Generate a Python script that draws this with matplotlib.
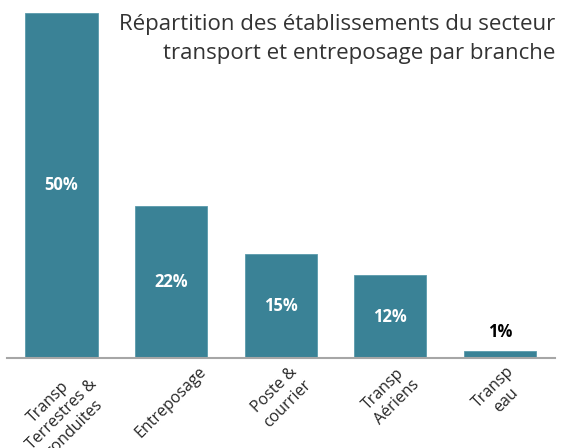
import matplotlib.pyplot as plt
import numpy as np

plt.rcParams['font.family'] = ['Open Sans', 'DejaVu Sans']

branches = ['Transp\nTerrestres &\nconduites', 'Entreposage', 'Poste &\ncourrier',
            'Transp\nAériens', 'Transp\neau']
shares = [50, 22, 15, 12, 1]

bar_color = '#3a8296'

fig = plt.figure(figsize=(5.62, 4.48), dpi=100)
ax = fig.add_axes([0.012, 0.201, 0.975, 0.770])

x = np.arange(len(branches))
bars = ax.bar(x, shares, width=0.66, color=bar_color, edgecolor='#5a9aab', linewidth=0.6)

ax.set_xlim(-0.5, len(branches) - 0.5)
ax.set_ylim(0, 50)

# value labels: inside the bar, or above it when the bar is too short
for xi, v in zip(x, shares):
    if v >= 5:
        ax.text(xi, v / 2, f'{v}%', ha='center', va='center', color='white',
                fontsize=12, fontweight='bold')
    else:
        ax.text(xi, v + 2.8, f'{v}%', ha='center', va='center', color='black',
                fontsize=12, fontweight='bold')

for s in ['top', 'right', 'left']:
    ax.spines[s].set_visible(False)
ax.spines['bottom'].set_color('#a6a6a6')
ax.spines['bottom'].set_linewidth(1.5)
ax.set_yticks([])

# rotated labels: the rotated box is centred under each bar
ax.set_xticks(x)
ax.set_xticklabels(branches, rotation=45, ha='center', va='top',
                   rotation_mode='default', multialignment='center',
                   fontsize=11.5, color='#262626', linespacing=1.2)
ax.tick_params(axis='x', length=0, pad=4)

fig.text(0.988, 0.913, 'Répartition des établissements du secteur\ntransport et entreposage par branche',
         ha='right', va='center', multialignment='right', fontsize=16,
         color='#333333', linespacing=1.45)

fig.savefig('out.png', dpi=100)
